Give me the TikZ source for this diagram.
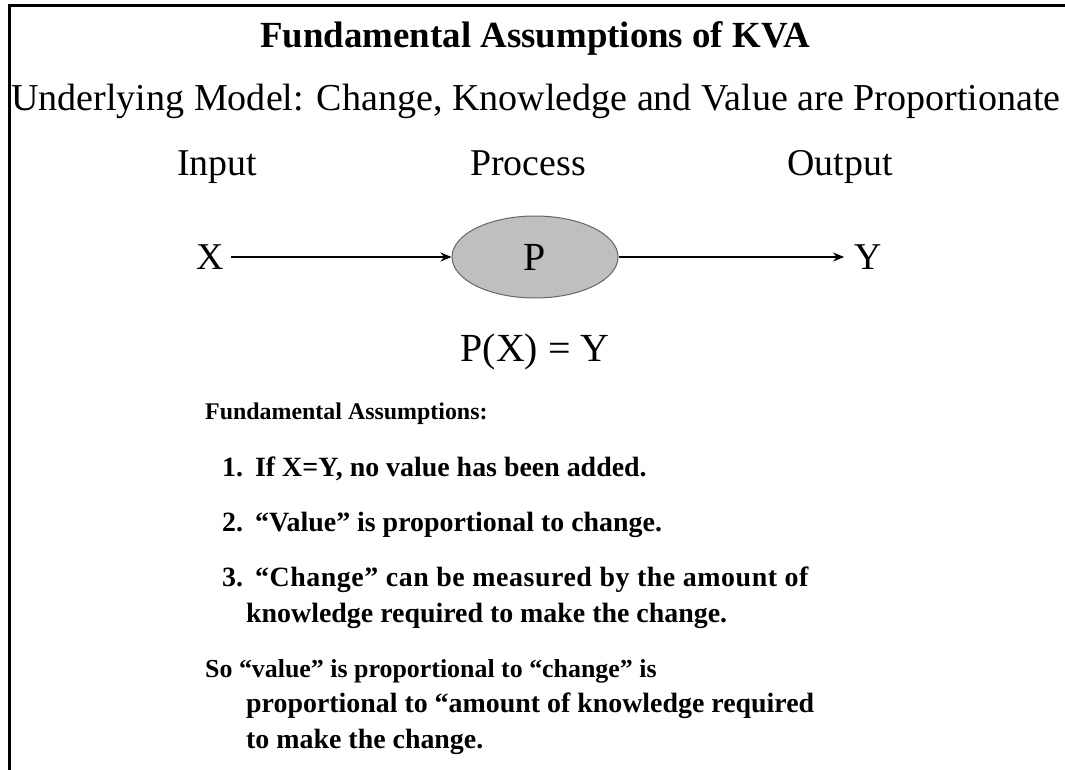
\documentclass[tikz,border=0pt]{standalone}
\usepackage{fontspec}
\setmainfont{Liberation Serif}
\usetikzlibrary{arrows.meta,shapes.geometric}
\begin{document}
\begin{tikzpicture}[x=1bp, y=-1bp,
    label text/.style={font=\fontsize{38}{42}\selectfont, inner sep=0pt, anchor=base},
    var text/.style={font=\fontsize{38}{42}\selectfont, inner ysep=0pt},
    body text/.style={font=\fontsize{28}{32}\bfseries\selectfont, inner sep=0pt, anchor=base west, align=left},
    flow/.style={line width=1.6bp, -{Stealth[length=11bp, width=9bp]}}]
        \useasboundingbox (0, 0) rectangle (1065, 770);
        % frame
        \draw[line width=3bp] (9, 770) -- (9, 6) -- (1065, 6);
        % headings
        \node[inner sep=0pt, anchor=base, font=\fontsize{37}{41}\bfseries\selectfont] (title) at (535, 48) {Fundamental Assumptions of KVA};
        \node[inner sep=0pt, anchor=base, font=\fontsize{38.2}{42}\selectfont] (model) at (536, 110) {Underlying Model: Change, Knowledge and Value are Proportionate};
        % column labels
        \node[label text] (input) at (217, 175) {Input};
        \node[label text] (process) at (528, 175) {Process};
        \node[label text] (output) at (840, 175) {Output};
        % the process
        \node[var text, inner xsep=7bp] (x) at (210, 257) {X};
        \node[ellipse, draw=black!60, fill=black!25, line width=1bp, minimum width=166bp, minimum height=82bp, font=\fontsize{40}{44}\selectfont] (p) at (535, 257) {\raisebox{-3bp}{P}};
        \node[var text, inner xsep=10bp] (y) at (868, 257) {Y};
        % input to process
        \draw[flow] (x) -- (p);
        % process to output
        \draw[flow] (p) -- (y);
        % formula
        \node[label text, font=\fontsize{40}{44}\selectfont] (formula) at (535, 361) {P(X) = Y};
        % assumptions
        \node[body text, font=\fontsize{24}{28}\bfseries\selectfont] (head) at (205, 419) {Fundamental Assumptions:};
        \node[body text] (a1) at (222, 476) {1.\hspace{12bp}If X=Y, no value has been added.};
        \node[body text] (a2) at (222, 531) {2.\hspace{12bp}“Value” is proportional to change.};
        \node[body text] (a3) at (222, 586) {3.\hspace{12bp}\addfontfeatures{LetterSpace=2}“Change” can be measured by the amount of};
        \node[body text] (a3b) at (246, 622) {knowledge required to make the change.};
        \node[body text, font=\fontsize{26}{30}\bfseries\selectfont] (so) at (205, 677) {So “value” is proportional to “change” is};
        \node[body text] (sob) at (246, 712) {proportional to “amount of knowledge required};
        \node[body text] (soc) at (246, 748) {to make the change.};
\end{tikzpicture}
\end{document}
